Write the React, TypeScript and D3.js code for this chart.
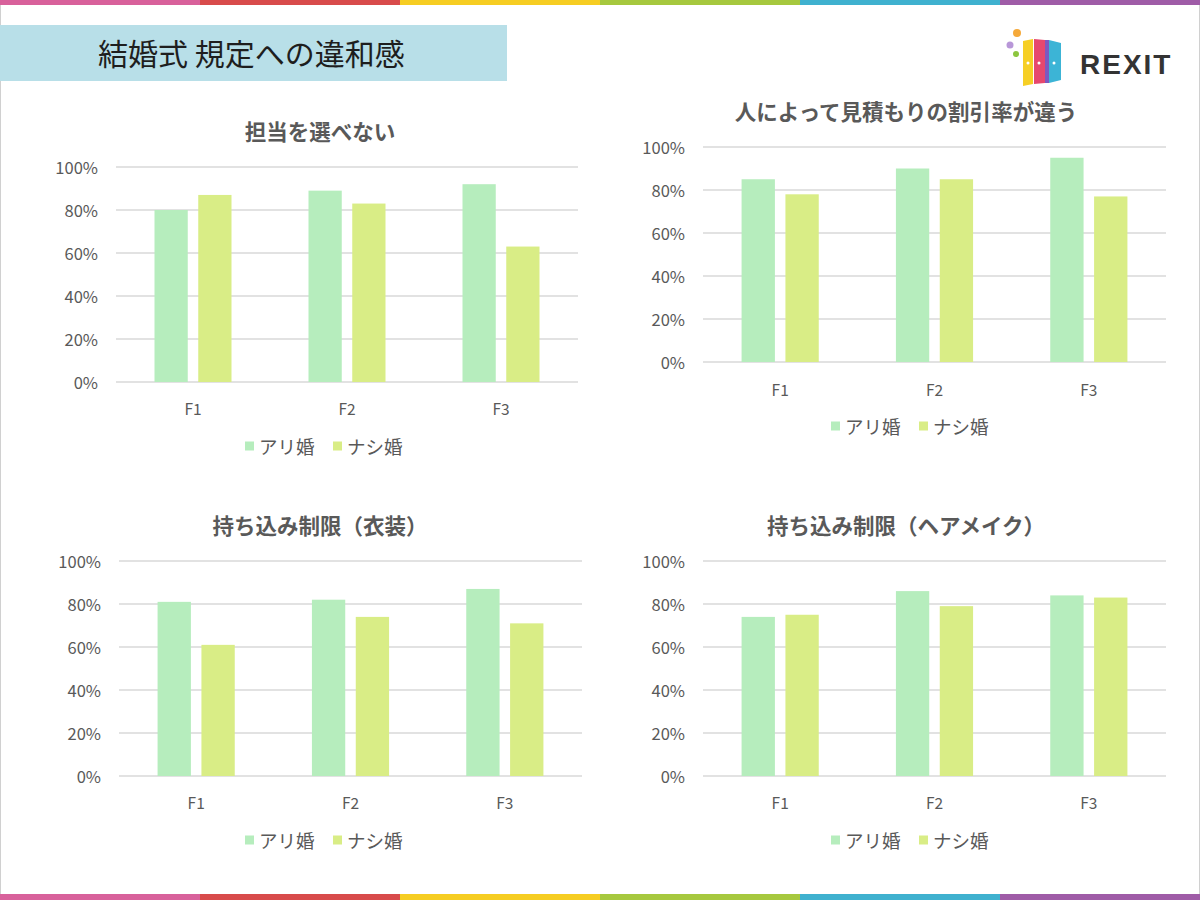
import React from 'react';
import * as d3 from 'd3';

const categories = ['F1', 'F2', 'F3'];
const seriesNames = ['アリ婚', 'ナシ婚'];
const yTickValues = [0, 0.2, 0.4, 0.6, 0.8, 1.0];
const pageTitle = '結婚式 規定への違和感';

const chartTitles = [
  '担当を選べない',
  '人によって見積もりの割引率が違う',
  '持ち込み制限（衣装）',
  '持ち込み制限（ヘアメイク）',
];

const ari1 = [0.80, 0.89, 0.92];
const nashi1 = [0.87, 0.83, 0.63];
const ari2 = [0.85, 0.90, 0.95];
const nashi2 = [0.78, 0.85, 0.77];
const ari3 = [0.81, 0.82, 0.87];
const nashi3 = [0.61, 0.74, 0.71];
const ari4 = [0.74, 0.86, 0.84];
const nashi4 = [0.75, 0.79, 0.83];

const stripeColors = ['#d8619b', '#d84b4b', '#f6cd22', '#a6c83e', '#3fb1cf', '#9f5ca7'];
const seriesColors = ['#b6edbd', '#d9ed86'];

const FONT = '"Noto Sans CJK JP", "Noto Sans", sans-serif';

type Layout = {
  x0: number; x1: number; yTop: number; yBot: number;
  titleY: number; labelY: number; legendY: number; cx: number;
};

const layouts: Layout[] = [
  { x0: 116, x1: 578, yTop: 167, yBot: 382, titleY: 130, labelY: 408, legendY: 446, cx: 320 },
  { x0: 703, x1: 1166, yTop: 147, yBot: 362, titleY: 110, labelY: 389, legendY: 426, cx: 906 },
  { x0: 119, x1: 582, yTop: 561, yBot: 776, titleY: 524, labelY: 802, legendY: 840, cx: 320 },
  { x0: 703, x1: 1166, yTop: 561, yBot: 776, titleY: 524, labelY: 802, legendY: 840, cx: 906 },
];

const chartData = [
  [ari1, nashi1],
  [ari2, nashi2],
  [ari3, nashi3],
  [ari4, nashi4],
];

function BarChart({ title, series, L }: { title: string; series: number[][]; L: Layout }) {
  const x0 = d3.scaleBand<string>().domain(categories).range([L.x0, L.x1]).paddingInner(0.5).paddingOuter(0.25);
  const x1 = d3.scaleBand<string>().domain(seriesNames).range([0, x0.bandwidth()]).paddingInner(0.24);
  const y = d3.scaleLinear().domain([0, 1]).range([L.yBot, L.yTop]);
  const fmt = d3.format('.0%');
  const legendItemW = 88;
  const legendStart = L.cx - 75;
  return (
    <g>
      <text x={L.cx} y={L.titleY} textAnchor="middle" dominantBaseline="central"
        fontSize={21.5} fontWeight={700} fill="#595959" fontFamily={FONT}>{title}</text>
      {yTickValues.map((t) => (
        <g key={t}>
          <line x1={L.x0} x2={L.x1} y1={y(t)} y2={y(t)} stroke="#d9d9d9" strokeWidth={1.3} />
          <text x={L.x0 - 18} y={y(t)} textAnchor="end" dominantBaseline="central"
            fontSize={16.5} fill="#595959" fontFamily={FONT}>{fmt(t)}</text>
        </g>
      ))}
      {categories.map((c, ci) => (
        <g key={c}>
          {seriesNames.map((s, si) => (
            <rect key={s}
              x={(x0(c) as number) + (x1(s) as number)}
              y={y(series[si][ci])}
              width={x1.bandwidth()}
              height={y(0) - y(series[si][ci])}
              fill={seriesColors[si]} />
          ))}
          <text x={(x0(c) as number) + x0.bandwidth() / 2} y={L.labelY} textAnchor="middle"
            dominantBaseline="central" fontSize={15.5} fill="#595959" fontFamily={FONT}>{c}</text>
        </g>
      ))}
      {seriesNames.map((s, si) => (
        <g key={s} transform={`translate(${legendStart + si * legendItemW}, ${L.legendY})`}>
          <rect x={0} y={-4.5} width={9} height={9} fill={seriesColors[si]} />
          <text x={14} y={0} dominantBaseline="central" fontSize={18.5} fill="#595959" fontFamily={FONT}>{s}</text>
        </g>
      ))}
    </g>
  );
}

export default function App() {
  const stripeX = d3.scaleBand<number>().domain(d3.range(stripeColors.length)).range([0, 1200]);
  return (
    <svg width={1200} height={900} style={{ position: 'absolute', left: 0, top: 0, background: '#fff' }}>
      <rect x={0} y={0} width={1200} height={900} fill="#ffffff" />
      <rect x={0.5} y={0.5} width={1199} height={899} fill="none" stroke="#d0d0d0" />
      {stripeColors.map((c, i) => (
        <g key={i}>
          <rect x={stripeX(i)} y={0} width={stripeX.bandwidth()} height={5} fill={c} />
          <rect x={stripeX(i)} y={894} width={stripeX.bandwidth()} height={6} fill={c} />
        </g>
      ))}
      <rect x={0} y={25} width={507} height={56} fill="#b8dfe8" />
      <text x={98} y={52} dominantBaseline="central" fontSize={30} fill="#1e1e1e" fontFamily={FONT}>{pageTitle}</text>

      {/* logo */}
      <g>
        <circle cx={1017} cy={33} r={4} fill="#f5a93a" />
        <circle cx={1010} cy={45} r={3.5} fill="#b897d8" />
        <circle cx={1016} cy={54} r={3} fill="#8cc63f" />
        <polygon points="1023,41 1033,39 1033,84 1023,86" fill="#f6cf25" />
        <polygon points="1034,39 1045,40 1045,83 1034,84" fill="#e6486e" />
        <polygon points="1045,40 1049,40 1049,83 1045,83" fill="#7d58c0" />
        <polygon points="1049,40 1061,43 1061,80 1049,83" fill="#3cb4d6" />
        <circle cx={1028} cy={63} r={1.5} fill="#fff" />
        <circle cx={1039} cy={63} r={1.5} fill="#fff" />
        <circle cx={1054} cy={63} r={1.5} fill="#fff" />
        <text x={1080} y={74} fontSize={28} fontWeight={700} fill="#333" letterSpacing={2}
          fontFamily='"Liberation Sans", Arial, sans-serif'>REXIT</text>
      </g>

      {layouts.map((L, i) => (
        <BarChart key={i} title={chartTitles[i]} series={chartData[i]} L={L} />
      ))}
    </svg>
  );
}
